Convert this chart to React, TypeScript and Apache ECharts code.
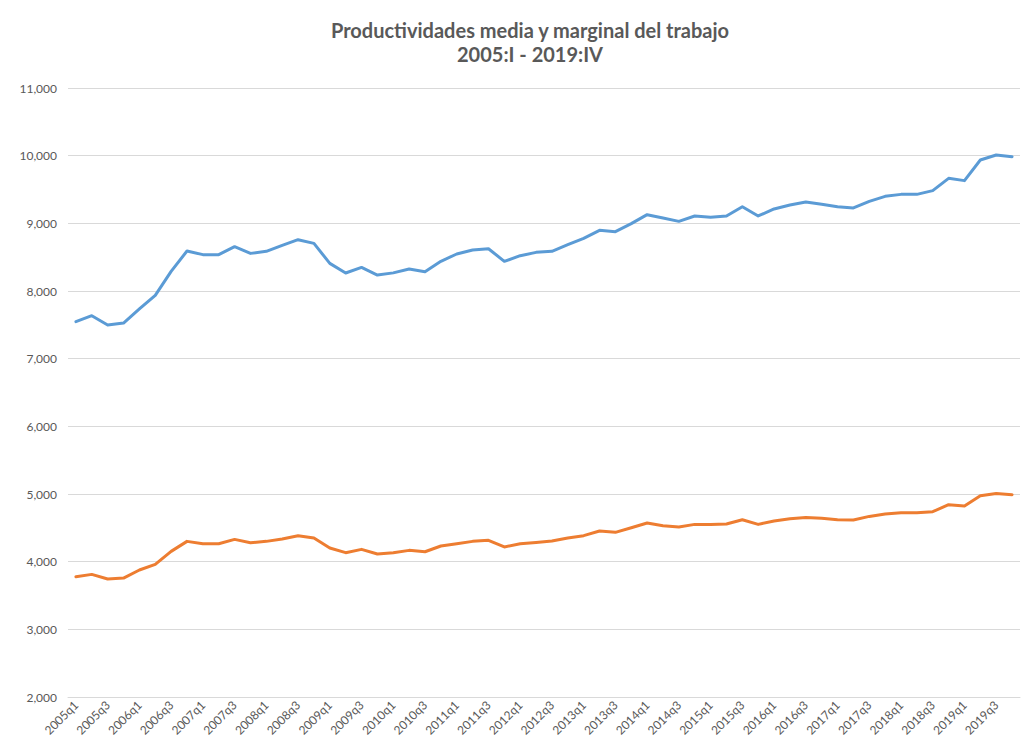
import React, { useEffect, useRef } from "react";
import * as echarts from "echarts";

const years = [2005, 2006, 2007, 2008, 2009, 2010, 2011, 2012, 2013, 2014, 2015, 2016, 2017, 2018, 2019];
const quarters = ["q1", "q2", "q3", "q4"];
const categories: string[] = [];
years.forEach((y) => quarters.forEach((q) => categories.push(`${y}${q}`)));

const mediaValues = [
  7547, 7635, 7498, 7527, 7734, 7935, 8290, 8591, 8537, 8537,
  8655, 8556, 8586, 8675, 8758, 8704, 8408, 8266, 8349, 8236,
  8268, 8325, 8286, 8438, 8547, 8606, 8625, 8438, 8522, 8571,
  8586, 8685, 8778, 8897, 8877, 8995, 9128, 9079, 9029, 9109,
  9091, 9109, 9246, 9109, 9212, 9271, 9315, 9281, 9246, 9227,
  9325, 9399, 9428, 9428, 9483, 9665, 9631, 9936, 10010, 9985,
];

const marginalValues = [
  3778, 3812, 3744, 3758, 3877, 3960, 4152, 4300, 4265, 4265,
  4329, 4280, 4300, 4335, 4384, 4350, 4202, 4133, 4182, 4113,
  4132, 4167, 4147, 4231, 4265, 4300, 4315, 4217, 4265, 4285,
  4305, 4350, 4384, 4453, 4433, 4502, 4571, 4532, 4512, 4551,
  4551, 4557, 4620, 4551, 4601, 4635, 4654, 4640, 4620, 4616,
  4669, 4704, 4724, 4724, 4738, 4842, 4823, 4975, 5009, 4990,
];

const titleLines = ["Productividades media y marginal del trabajo", "2005:I - 2019:IV"];

export default function App() {
  const ref = useRef<HTMLDivElement>(null);
  useEffect(() => {
    if (!ref.current) return;
    const chart = echarts.init(ref.current, undefined, { renderer: "svg" });
    chart.setOption({
      animation: false,
      backgroundColor: "#ffffff",
      textStyle: { fontFamily: "Lato, 'Open Sans', sans-serif" },
      title: {
        text: titleLines.join("\n"),
        left: 525,
        textAlign: "center",
        top: 13,
        textStyle: {
          fontFamily: "Lato, 'Open Sans', sans-serif",
          fontSize: 20,
          fontWeight: "bold",
          color: "#595959",
          lineHeight: 24,
        },
      },
      grid: { left: 68, right: 11, top: 88, bottom: 56, containLabel: false },
      xAxis: {
        type: "category",
        data: categories,
        boundaryGap: true,
        axisLine: { show: true, lineStyle: { color: "#D9D9D9", width: 1 } },
        axisTick: { show: false },
        axisLabel: {
          interval: 1,
          rotate: 45,
          fontSize: 12,
          color: "#595959",
          margin: 6,
        },
      },
      yAxis: {
        type: "value",
        min: 2000,
        max: 11000,
        interval: 1000,
        axisLine: { show: false },
        axisTick: { show: false },
        splitLine: { lineStyle: { color: "#D9D9D9", width: 1 } },
        axisLabel: {
          fontSize: 12,
          color: "#595959",
          margin: 11,
          formatter: (v: number) => v.toLocaleString("en-US"),
        },
      },
      series: [
        {
          name: "Productividad media",
          type: "line",
          data: mediaValues,
          symbol: "none",
          lineStyle: { color: "#5B9BD5", width: 3, cap: "round", join: "round" },
          itemStyle: { color: "#5B9BD5" },
        },
        {
          name: "Productividad marginal",
          type: "line",
          data: marginalValues,
          symbol: "none",
          lineStyle: { color: "#ED7D31", width: 3, cap: "round", join: "round" },
          itemStyle: { color: "#ED7D31" },
        },
      ],
    });
    return () => chart.dispose();
  }, []);
  return (
    <div
      ref={ref}
      style={{ position: "absolute", left: 0, top: 0, width: 1031, height: 753 }}
    />
  );
}
